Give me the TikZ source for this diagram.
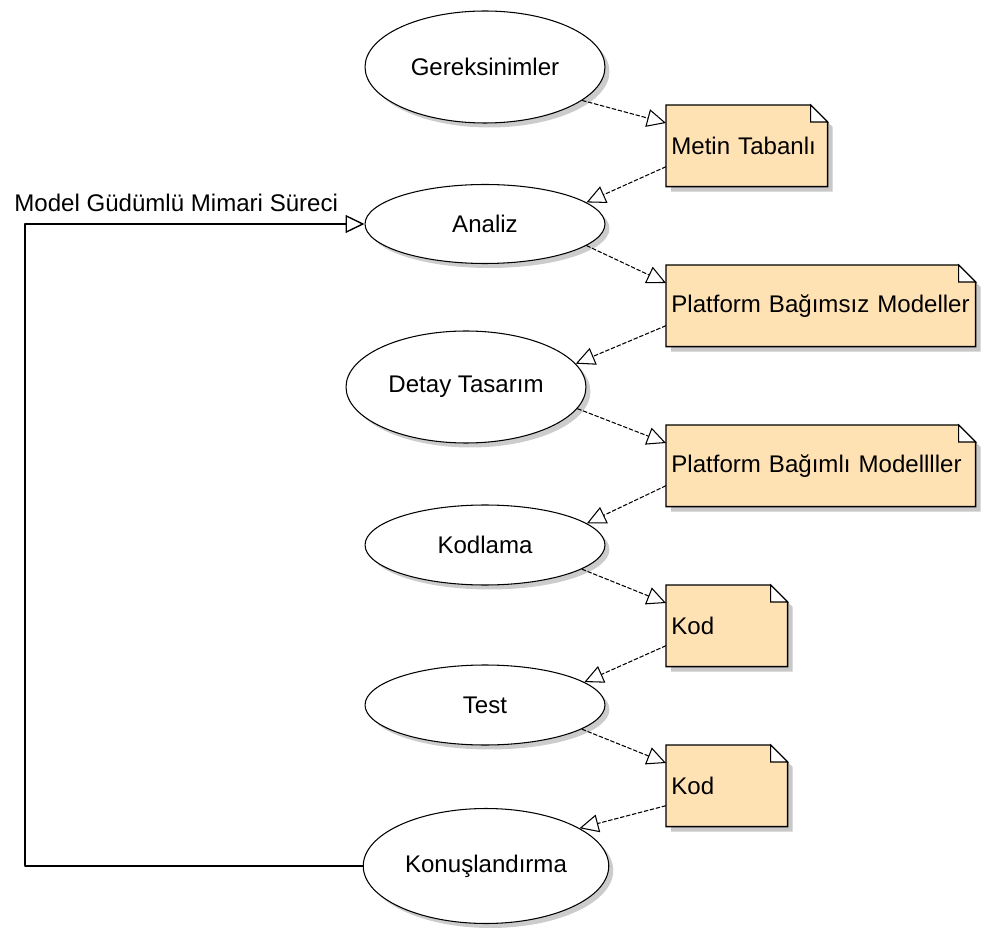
\documentclass[tikz,border=0pt]{standalone}
\usepackage{fontspec}
\setmainfont{Liberation Sans}
\usetikzlibrary{shapes.geometric,arrows.meta,shadows,backgrounds,calc}
\definecolor{notfill}{RGB}{255,226,180}
\definecolor{golge}{RGB}{200,200,200}
\begin{document}
\begin{tikzpicture}[x=0.02cm, y=-0.02cm, >={Triangle[open,length=0.38cm,width=0.36cm]},
	font=\fontsize{13.7}{16}\selectfont, line join=round,
	usecase/.style={draw, ellipse, line width=0.6pt, fill=white, minimum width=4.8cm, minimum height=#1,
		drop shadow={shadow xshift=0.09cm, shadow yshift=-0.09cm, fill=black!40, opacity=0.5}},
	note/.style={rectangle, anchor=north west, align=left, text width=#1, inner xsep=0.1cm, minimum height=1.62cm},
	dep/.style={->, line width=0.6pt, dash pattern=on 2.5pt off 1pt}]
	\def\fold{17} % kıvrık köşe
	\useasboundingbox (0,0) rectangle (984,932);
	% süreç adımları
	\node[usecase=2.24cm] (ger) at (485,67) {Gereksinimler};
	\node[usecase=1.58cm] (ana) at (485,224) {Analiz};
	\node[usecase=2.24cm] (det) at (466,387) {Detay Tasarım};
	\node[usecase=1.6cm] (kdl) at (485,545) {Kodlama};
	\node[usecase=1.6cm] (tst) at (485,705) {Test};
	\node[usecase=2.3cm] (kon) at (486,866) {Konuşlandırma};
	% çıktılar
	\node[note=3.02cm] (metin) at (666,105) {Metin Tabanlı};
	\node[note=5.98cm] (pbm) at (666,265) {Platform Bağımsız Modeller};
	\node[note=5.98cm] (pbam) at (666,425) {Platform Bağımlı Modellller};
	\node[note=2.22cm] (kod) at (666,585) {Kod};
	\node[note=2.22cm] (kodb) at (666,745) {Kod};
	\begin{scope}[on background layer]
		\foreach \n in {metin,pbm,pbam,kod,kodb}{
			\fill[golge] ($(\n.south west)+(5,5)$) -- ($(\n.north west)+(5,5)$) -- ($(\n.north east)+(5-\fold,5)$) -- ($(\n.north east)+(5,5+\fold)$) -- ($(\n.south east)+(5,5)$) -- cycle;
			\draw[line width=0.8pt, fill=notfill] (\n.south west) -- (\n.north west) -- ($(\n.north east)+(-\fold,0)$) -- ($(\n.north east)+(0,\fold)$) -- (\n.south east) -- cycle;
			\draw[line width=0.6pt, fill=white] ($(\n.north east)+(-\fold,0)$) -- ($(\n.north east)+(-\fold,\fold)$) -- ($(\n.north east)+(0,\fold)$) -- cycle;
		}
	\end{scope}
	% bağımlılıklar
	\draw[dep] (ger.-19) -- ($(metin.north west)+(0,18)$);
	\draw[dep] ($(metin.south west)+(0,-20)$) -- (ana.12);
	\draw[dep] (ana.-12) -- ($(pbm.north west)+(0,18)$);
	\draw[dep] ($(pbm.south west)+(0,-21)$) -- (det.12);
	\draw[dep] (det.-11) -- ($(pbam.north west)+(0,18)$);
	\draw[dep] ($(pbam.south west)+(0,-21)$) -- (kdl.12);
	\draw[dep] (kdl.-14) -- ($(kod.north west)+(0,18)$);
	\draw[dep] ($(kod.south west)+(0,-21)$) -- (tst.13);
	\draw[dep] (tst.-14) -- ($(kodb.north west)+(0,18)$);
	\draw[dep] ($(kodb.south west)+(0,-21)$) -- (kon.22);
	% geri dönüş
	\coordinate (sol) at (25,0);
	\draw[->, line width=0.8pt] (kon.west) -- (kon.west -| sol) -- (ana.west -| sol) -- (ana.west);
	\node[anchor=base west, inner sep=0pt] (baslik) at (14,212) {Model Güdümlü Mimari Süreci};
\end{tikzpicture}
\end{document}
